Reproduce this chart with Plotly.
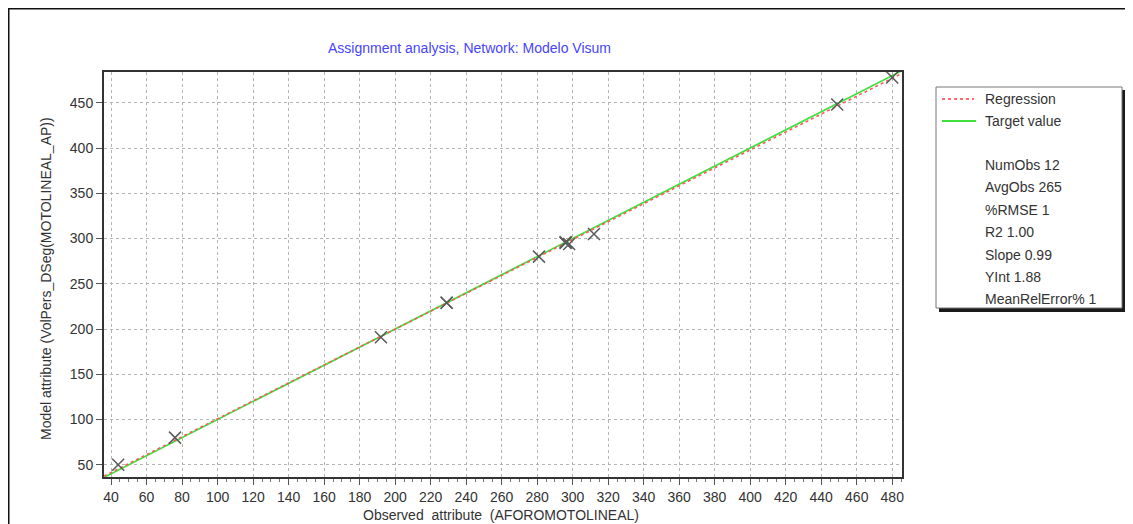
import plotly.graph_objects as go

# observed vs modelled volumes
observed = [44, 76, 192, 229, 229, 281, 296, 296, 298, 312, 449, 480]
modelled = [50, 80, 191, 229, 229, 280, 296, 295, 294, 305, 448, 478]

axis_span = [36, 486]

slope = 0.99
y_int = 1.88

stats_lines = [
    "NumObs 12",
    "AvgObs 265",
    "%RMSE 1",
    "R2 1.00",
    "Slope 0.99",
    "YInt 1.88",
    "MeanRelError% 1",
]

W, H = 1133, 524
OFF = 8  # page body margin shifts the figure by 8px
L, R, T, B = 104 - OFF, 902 - OFF, 72 - OFF, 477 - OFF
FONT = "Liberation Sans, Arial, sans-serif"


def px(xp):
    # screen pixel x -> paper coordinate
    return (xp - OFF - L) / (R - L)


def py(yp):
    return (B - (yp - OFF)) / (B - T)


def label(text, x, y, xanchor="left", size=14, color="#333", angle=0):
    return dict(text=text, x=px(x), y=py(y), xref="paper", yref="paper",
                xanchor=xanchor, yanchor="middle", showarrow=False,
                textangle=angle, font=dict(family=FONT, size=size, color=color))


fig = go.Figure()

# target value y = x
fig.add_trace(go.Scatter(
    x=axis_span, y=axis_span, mode="lines",
    line=dict(color="#3ee03e", width=1.6),
    hoverinfo="skip", showlegend=False,
))

# regression line
fig.add_trace(go.Scatter(
    x=axis_span, y=[slope * v + y_int for v in axis_span], mode="lines",
    line=dict(color="#ff5a5a", width=1.6, dash="dot"),
    hoverinfo="skip", showlegend=False,
))

fig.add_trace(go.Scatter(
    x=observed, y=modelled, mode="markers",
    marker=dict(symbol="x-thin-open", size=12, color="#5a5a5a",
                line=dict(color="#5a5a5a", width=1.5)),
    hovertemplate="Observed %{x}<br>Model %{y}<extra></extra>",
    showlegend=False,
))

axis_common = dict(
    showline=True, linecolor="#333", linewidth=2, mirror=True,
    showgrid=True, gridcolor="#b4b4b4", griddash="dot", gridwidth=1,
    zeroline=False, ticks="outside", tickcolor="#555", ticklen=6,
    tickfont=dict(family=FONT, size=14, color="#333"),
)

fig.update_xaxes(
    range=[36, 485.5], tickmode="linear", tick0=40, dtick=20,
    minor=dict(ticks="outside", ticklen=3, dtick=5, tickcolor="#777", showgrid=False),
    **axis_common,
)
fig.update_yaxes(
    range=[36.5, 484], tickmode="linear", tick0=50, dtick=50,
    **axis_common,
)

shapes = [
    # outer frame
    dict(type="rect", xref="paper", yref="paper",
         x0=px(8.5), x1=px(1150), y0=py(8.5), y1=py(545),
         line=dict(color="#111", width=2), layer="below"),
    # legend shadow + box
    dict(type="rect", xref="paper", yref="paper",
         x0=px(939), x1=px(1126), y0=py(90), y1=py(312),
         line=dict(width=0), fillcolor="#1a1a1a"),
    dict(type="rect", xref="paper", yref="paper",
         x0=px(936), x1=px(1122), y0=py(87), y1=py(308),
         line=dict(color="#777", width=1), fillcolor="white"),
    # legend samples
    dict(type="line", xref="paper", yref="paper",
         x0=px(942), x1=px(974), y0=py(99), y1=py(99),
         line=dict(color="#ff6b6b", width=2, dash="dot")),
    dict(type="line", xref="paper", yref="paper",
         x0=px(942), x1=px(976), y0=py(121), y1=py(121),
         line=dict(color="#3ee03e", width=2)),
]

annotations = [
    label("Assignment analysis, Network: Modelo Visum", 469, 48,
          xanchor="center", color="#4545ff"),
    label("Model attribute (VolPers_DSeg(MOTOLINEAL_AP))", 46, 279,
          xanchor="center", angle=-90),
    label("Observed  attribute  (AFOROMOTOLINEAL)", 501, 515, xanchor="center"),
    label("Regression", 983, 99),
    label("Target value", 983, 121),
]
for i, s in enumerate(stats_lines):
    annotations.append(label(s, 983, 165 + i * 22.4))

fig.update_layout(
    width=W, height=H,
    margin=dict(l=L, r=W - R, t=T, b=H - B, autoexpand=False),
    paper_bgcolor="white", plot_bgcolor="white",
    shapes=shapes, annotations=annotations,
    showlegend=False,
)

fig.write_html("out.html")
